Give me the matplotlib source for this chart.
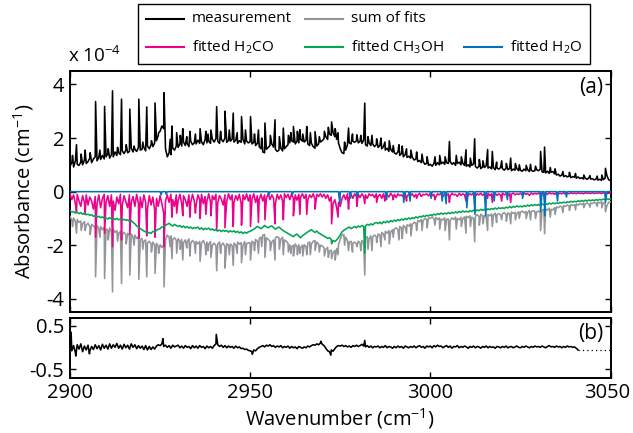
import numpy as np
import matplotlib
matplotlib.use("Agg")
import matplotlib.pyplot as plt
from matplotlib.lines import Line2D
from matplotlib.patches import Rectangle
from matplotlib.transforms import ScaledTranslation

plt.rcParams['font.family'] = ['Open Sans', 'DejaVu Sans']
plt.rcParams['mathtext.fontset'] = 'custom'
plt.rcParams['mathtext.rm'] = 'Open Sans'
plt.rcParams['mathtext.it'] = 'Open Sans:italic'
plt.rcParams['mathtext.bf'] = 'Open Sans:bold'
plt.rcParams['axes.unicode_minus'] = False

# ---------------------------------------------------------------- data
# spectra sampled every 0.5 cm-1 from 2900 to 3050 (absorbance in 1e-4 cm-1)
wn = np.arange(2900, 3050.25, 0.5)

meas_base = [
    0.95, 1.08, 0.92, 1.15, 1.02, 0.98, 1.10, 1.00, 1.18, 1.05,
    1.12, 1.25, 1.08, 1.22, 1.30, 1.15, 1.28, 1.20, 1.35, 1.22,
    1.30, 1.42, 1.25, 1.38, 1.30, 1.48, 1.35, 1.45, 1.38, 1.52,
    1.42, 1.55, 1.45, 1.50, 1.62, 1.48, 1.58, 1.50, 1.65, 1.55,
    1.58, 1.65, 1.52, 1.70, 1.60, 1.75, 1.68, 1.82, 1.90, 2.10,
    2.25, 2.45, 2.35, 1.60, 1.30, 1.45, 1.38, 1.62, 1.55, 1.70,
    1.65, 1.78, 1.70, 1.85, 1.72, 1.80, 1.68, 1.88, 1.75, 1.82,
    1.78, 1.92, 1.80, 1.86, 1.75, 1.95, 1.82, 1.88, 1.80, 1.96,
    1.85, 1.98, 1.88, 1.80, 1.95, 1.86, 2.00, 1.84, 1.92, 1.88,
    1.96, 1.85, 1.92, 1.80, 1.90, 1.84, 1.95, 1.78, 1.88, 1.82,
    1.86, 1.78, 1.84, 1.72, 1.80, 1.68, 1.60, 1.48, 1.45, 1.58,
    1.65, 1.72, 1.78, 1.66, 1.58, 1.50, 1.55, 1.62, 1.52, 1.60,
    1.68, 1.75, 1.82, 1.90, 1.85, 1.78, 1.88, 1.82, 1.95, 1.88,
    1.85, 1.92, 1.78, 1.72, 1.80, 1.68, 1.62, 1.70, 1.78, 1.85,
    1.90, 1.98, 2.05, 1.95, 2.15, 2.10, 2.20, 2.05, 1.95, 1.82,
    1.60, 1.45, 1.42, 1.55, 1.75, 1.82, 1.78, 1.88, 1.84, 1.90,
    1.82, 1.88, 1.80, 1.92, 1.75, 1.70, 1.82, 1.72, 1.78, 1.68,
    1.75, 1.65, 1.72, 1.60, 1.68, 1.55, 1.62, 1.50, 1.58, 1.48,
    1.45, 1.40, 1.48, 1.35, 1.42, 1.30, 1.38, 1.28, 1.32, 1.25,
    1.28, 1.18, 1.22, 1.12, 1.16, 1.08, 1.12, 1.02, 1.06, 0.98,
    1.02, 0.95, 1.05, 0.98, 1.08, 1.00, 1.04, 1.10, 1.02, 1.08,
    1.05, 1.12, 1.02, 1.08, 0.98, 1.05, 1.10, 1.00, 1.06, 0.98,
    0.95, 1.00, 0.92, 0.98, 1.04, 0.94, 0.88, 0.95, 0.86, 0.92,
    0.90, 0.96, 0.88, 0.92, 0.85, 0.90, 0.82, 0.88, 0.84, 0.90,
    0.86, 0.80, 0.88, 0.82, 0.86, 0.78, 0.84, 0.80, 0.86, 0.78,
    0.80, 0.76, 0.84, 0.78, 0.82, 0.75, 0.80, 0.76, 0.78, 0.82,
    0.78, 0.84, 0.74, 0.72, 0.70, 0.76, 0.68, 0.72, 0.75, 0.66,
    0.62, 0.65, 0.58, 0.62, 0.56, 0.60, 0.55, 0.58, 0.52, 0.56,
    0.54, 0.50, 0.55, 0.49, 0.52, 0.47, 0.50, 0.46, 0.51, 0.47,
    0.48, 0.44, 0.47, 0.43, 0.46, 0.42, 0.45, 0.50, 0.60, 0.44,
    0.42]

sum_base = [
    -0.93, -1.05, -0.98, -1.12, -1.04, -1.15, -1.10, -1.20, -1.12, -1.25,
    -1.18, -1.30, -1.22, -1.28, -1.35, -1.25, -1.38, -1.30, -1.42, -1.32,
    -1.38, -1.45, -1.35, -1.50, -1.40, -1.52, -1.45, -1.55, -1.48, -1.60,
    -1.52, -1.62, -1.55, -1.65, -1.58, -1.70, -1.62, -1.75, -1.68, -1.80,
    -1.75, -1.85, -1.80, -1.92, -1.85, -1.95, -1.88, -2.00, -1.92, -2.05,
    -1.98, -2.08, -2.00, -1.80, -1.62, -1.70, -1.65, -1.78, -1.72, -1.82,
    -1.75, -1.85, -1.78, -1.90, -1.80, -1.88, -1.76, -1.92, -1.82, -1.90,
    -1.85, -1.95, -1.86, -1.92, -1.82, -1.98, -1.88, -1.95, -1.86, -2.00,
    -1.92, -2.02, -1.95, -1.88, -2.00, -1.92, -2.05, -1.94, -2.00, -1.95,
    -2.02, -1.92, -1.98, -1.88, -1.96, -1.90, -2.00, -1.86, -1.95, -1.90,
    -1.92, -1.85, -1.90, -1.78, -1.85, -1.75, -1.70, -1.62, -1.60, -1.72,
    -1.78, -1.85, -1.88, -1.80, -1.72, -1.68, -1.72, -1.78, -1.70, -1.80,
    -1.85, -1.92, -1.98, -2.05, -2.00, -1.95, -2.05, -1.98, -2.08, -2.00,
    -1.98, -2.05, -1.92, -1.88, -1.95, -1.85, -1.82, -1.88, -1.95, -2.00,
    -2.02, -2.10, -2.15, -2.08, -2.22, -2.18, -2.28, -2.20, -2.12, -1.98,
    -1.78, -1.62, -1.60, -1.70, -1.82, -1.88, -1.85, -1.92, -1.88, -1.95,
    -1.85, -1.92, -1.82, -1.90, -1.72, -1.68, -1.75, -1.65, -1.70, -1.62,
    -1.68, -1.58, -1.62, -1.52, -1.58, -1.48, -1.55, -1.45, -1.50, -1.42,
    -1.40, -1.35, -1.42, -1.30, -1.36, -1.26, -1.32, -1.24, -1.28, -1.20,
    -1.22, -1.14, -1.18, -1.08, -1.12, -1.04, -1.08, -1.00, -1.04, -0.98,
    -1.00, -0.94, -1.02, -0.96, -1.04, -0.98, -1.02, -1.06, -0.98, -1.04,
    -1.02, -1.08, -0.98, -1.04, -0.95, -1.00, -1.05, -0.96, -1.02, -0.94,
    -0.92, -0.97, -0.90, -0.95, -1.00, -0.92, -0.86, -0.92, -0.84, -0.90,
    -0.88, -0.93, -0.85, -0.90, -0.83, -0.88, -0.80, -0.86, -0.82, -0.87,
    -0.83, -0.78, -0.85, -0.79, -0.83, -0.76, -0.81, -0.77, -0.82, -0.75,
    -0.77, -0.72, -0.79, -0.74, -0.77, -0.70, -0.75, -0.71, -0.73, -0.76,
    -0.72, -0.78, -0.68, -0.66, -0.64, -0.69, -0.62, -0.66, -0.68, -0.60,
    -0.57, -0.60, -0.54, -0.57, -0.52, -0.55, -0.50, -0.53, -0.48, -0.51,
    -0.49, -0.46, -0.50, -0.45, -0.48, -0.43, -0.46, -0.42, -0.46, -0.43,
    -0.44, -0.40, -0.43, -0.39, -0.42, -0.38, -0.41, -0.45, -0.52, -0.40,
    -0.38]

h2co_base = [
    -0.08, -0.30, -0.12, -0.45, -0.10, -0.35, -0.55, -0.15, -0.40, -0.12,
    -0.50, -0.20, -0.35, -0.65, -0.18, -0.45, -0.12, -0.60, -0.25, -0.10,
    -0.40, -0.15, -0.55, -0.12, -0.35, -0.70, -0.20, -0.45, -0.10, -0.50,
    -0.15, -0.38, -0.60, -0.12, -0.40, -0.18, -0.55, -0.10, -0.45, -0.20,
    -0.60, -0.12, -0.40, -0.65, -0.15, -0.50, -0.20, -0.70, -0.25, -0.55,
    -0.15, -0.45, -0.80, -0.35, -0.12, -0.40, -0.10, -0.30, -0.55, -0.12,
    -0.35, -0.10, -0.45, -0.15, -0.30, -0.55, -0.12, -0.40, -0.10, -0.35,
    -0.50, -0.12, -0.30, -0.10, -0.45, -0.18, -0.35, -0.08, -0.40, -0.15,
    -0.30, -0.10, -0.42, -0.15, -0.28, -0.50, -0.12, -0.35, -0.08, -0.30,
    -0.12, -0.40, -0.15, -0.32, -0.10, -0.45, -0.12, -0.30, -0.08, -0.35,
    -0.12, -0.28, -0.08, -0.40, -0.15, -0.30, -0.10, -0.35, -0.12, -0.25,
    -0.08, -0.30, -0.12, -0.25, -0.45, -0.10, -0.28, -0.12, -0.35, -0.08,
    -0.22, -0.10, -0.30, -0.08, -0.25, -0.12, -0.32, -0.10, -0.20, -0.08,
    -0.25, -0.10, -0.30, -0.12, -0.22, -0.08, -0.28, -0.10, -0.18, -0.08,
    -0.20, -0.10, -0.25, -0.12, -0.35, -0.20, -0.45, -0.30, -0.60, -0.40,
    -0.55, -0.25, -0.12, -0.30, -0.08, -0.22, -0.10, -0.25, -0.08, -0.18,
    -0.10, -0.22, -0.08, -0.18, -0.12, -0.25, -0.08, -0.15, -0.10, -0.22,
    -0.08, -0.18, -0.10, -0.25, -0.08, -0.15, -0.12, -0.20, -0.06, -0.16,
    -0.10, -0.22, -0.08, -0.15, -0.12, -0.20, -0.06, -0.18, -0.10, -0.15,
    -0.08, -0.20, -0.10, -0.14, -0.06, -0.18, -0.10, -0.12, -0.08, -0.16,
    -0.06, -0.15, -0.10, -0.20, -0.08, -0.12, -0.06, -0.18, -0.10, -0.14,
    -0.08, -0.16, -0.06, -0.12, -0.10, -0.18, -0.06, -0.14, -0.08, -0.12,
    -0.06, -0.15, -0.08, -0.12, -0.05, -0.16, -0.08, -0.12, -0.06, -0.14,
    -0.08, -0.12, -0.05, -0.15, -0.08, -0.10, -0.06, -0.14, -0.08, -0.12,
    -0.05, -0.12, -0.08, -0.15, -0.06, -0.10, -0.05, -0.12, -0.08, -0.10,
    -0.06, -0.12, -0.05, -0.10, -0.07, -0.14, -0.05, -0.10, -0.06, -0.09,
    -0.05, -0.11, -0.06, -0.09, -0.05, -0.10, -0.04, -0.08, -0.06, -0.10,
    -0.04, -0.09, -0.06, -0.08, -0.04, -0.10, -0.05, -0.08, -0.04, -0.07,
    -0.05, -0.08, -0.04, -0.07, -0.05, -0.08, -0.04, -0.06, -0.05, -0.07,
    -0.04, -0.07, -0.05, -0.06, -0.04, -0.07, -0.04, -0.06, -0.05, -0.06,
    -0.05]

ch3oh_base = [
    -0.72, -0.76, -0.74, -0.80, -0.77, -0.82, -0.78, -0.84, -0.80, -0.86,
    -0.84, -0.88, -0.86, -0.92, -0.90, -0.95, -0.92, -0.97, -0.94, -0.99,
    -0.98, -1.02, -0.97, -1.01, -0.99, -1.04, -1.00, -1.05, -1.02, -1.06,
    -1.03, -1.07, -1.05, -1.10, -1.08, -1.15, -1.20, -1.28, -1.32, -1.38,
    -1.42, -1.47, -1.50, -1.55, -1.52, -1.56, -1.48, -1.50, -1.44, -1.40,
    -1.38, -1.32, -1.30, -1.25, -1.22, -1.18, -1.24, -1.28, -1.22, -1.26,
    -1.30, -1.26, -1.33, -1.28, -1.35, -1.30, -1.36, -1.32, -1.38, -1.34,
    -1.36, -1.32, -1.40, -1.35, -1.42, -1.37, -1.40, -1.36, -1.43, -1.39,
    -1.45, -1.41, -1.47, -1.43, -1.49, -1.44, -1.48, -1.45, -1.51, -1.46,
    -1.50, -1.46, -1.52, -1.48, -1.54, -1.50, -1.56, -1.51, -1.55, -1.50,
    -1.48, -1.44, -1.40, -1.35, -1.30, -1.34, -1.38, -1.33, -1.26, -1.31,
    -1.35, -1.30, -1.28, -1.34, -1.40, -1.36, -1.32, -1.38, -1.44, -1.48,
    -1.52, -1.56, -1.60, -1.64, -1.68, -1.62, -1.58, -1.66, -1.72, -1.65,
    -1.60, -1.55, -1.50, -1.46, -1.42, -1.48, -1.52, -1.47, -1.54, -1.58,
    -1.62, -1.66, -1.70, -1.74, -1.72, -1.78, -1.82, -1.86, -1.80, -1.72,
    -1.62, -1.50, -1.44, -1.40, -1.36, -1.32, -1.38, -1.34, -1.30, -1.35,
    -1.28, -1.32, -1.26, -1.30, -1.28, -1.22, -1.25, -1.20, -1.24, -1.18,
    -1.15, -1.19, -1.14, -1.20, -1.12, -1.16, -1.10, -1.15, -1.08, -1.12,
    -1.06, -1.10, -1.04, -1.08, -1.02, -1.06, -1.00, -1.04, -0.98, -1.02,
    -0.97, -1.00, -0.94, -0.98, -0.92, -0.95, -0.90, -0.93, -0.88, -0.91,
    -0.86, -0.89, -0.84, -0.87, -0.82, -0.85, -0.80, -0.84, -0.80, -0.83,
    -0.78, -0.82, -0.77, -0.80, -0.75, -0.79, -0.74, -0.77, -0.72, -0.76,
    -0.73, -0.76, -0.71, -0.74, -0.69, -0.73, -0.68, -0.71, -0.66, -0.70,
    -0.66, -0.69, -0.64, -0.67, -0.63, -0.66, -0.61, -0.65, -0.60, -0.63,
    -0.60, -0.63, -0.58, -0.61, -0.56, -0.60, -0.55, -0.58, -0.53, -0.57,
    -0.54, -0.57, -0.52, -0.55, -0.50, -0.54, -0.49, -0.52, -0.48, -0.51,
    -0.48, -0.51, -0.46, -0.49, -0.45, -0.48, -0.43, -0.46, -0.42, -0.45,
    -0.42, -0.44, -0.40, -0.43, -0.39, -0.42, -0.38, -0.40, -0.36, -0.39,
    -0.36, -0.38, -0.34, -0.37, -0.33, -0.36, -0.32, -0.35, -0.31, -0.34,
    -0.31, -0.33, -0.30, -0.32, -0.29, -0.31, -0.28, -0.30, -0.27, -0.29,
    -0.27]

h2o_base = [0.0] * len(wn)

residual = [
    0.10, -0.08, 0.04, -0.12, 0.06, -0.04, 0.08, -0.10, 0.03, -0.06,
    0.05, -0.08, 0.02, -0.05, 0.06, -0.03, 0.04, -0.06, 0.07, -0.02,
    0.05, -0.04, 0.08, -0.02, 0.06, 0.00, 0.09, -0.02, 0.05, -0.04,
    0.07, -0.01, 0.05, -0.04, 0.08, 0.00, 0.06, -0.03, 0.04, -0.02,
    0.03, -0.05, 0.04, -0.06, 0.02, -0.05, 0.01, -0.04, 0.03, 0.06,
    0.04, 0.08, 0.02, 0.05, 0.00, 0.04, -0.02, 0.05, 0.01, 0.03,
    0.05, -0.01, 0.03, -0.02, 0.04, 0.00, 0.02, -0.03, 0.04, -0.01,
    0.03, -0.02, 0.04, 0.00, 0.02, -0.03, 0.03, -0.01, 0.02, -0.02,
    0.04, 0.08, 0.06, 0.02, 0.05, 0.00, 0.04, -0.01, 0.03, 0.00,
    0.02, -0.02, 0.03, -0.01, 0.01, -0.03, -0.02, -0.05, -0.04, -0.07,
    -0.08, -0.10, -0.06, -0.08, -0.03, 0.00, 0.02, 0.04, 0.01, 0.05,
    0.03, 0.06, 0.02, 0.04, 0.00, 0.03, 0.01, 0.04, -0.01, 0.02,
    0.00, 0.03, -0.02, 0.02, -0.01, 0.01, -0.03, 0.02, 0.00, -0.02,
    0.01, -0.01, 0.03, 0.01, 0.04, 0.06, 0.05, 0.08, 0.06, 0.10,
    0.07, 0.04, -0.02, -0.08, -0.10, -0.06, -0.09, -0.03, 0.02, 0.04,
    0.03, 0.05, 0.02, 0.04, 0.01, 0.03, 0.00, 0.04, 0.02, 0.05,
    0.02, 0.04, 0.07, 0.03, 0.01, 0.04, 0.00, 0.03, -0.01, 0.02,
    0.01, 0.03, -0.01, 0.02, 0.00, 0.04, -0.01, 0.02, 0.01, -0.02,
    0.02, -0.01, 0.03, 0.00, 0.02, -0.02, 0.03, 0.01, -0.01, 0.02,
    0.00, 0.03, -0.01, 0.02, 0.04, 0.00, 0.02, -0.02, 0.03, 0.01,
    0.03, -0.01, 0.04, 0.01, 0.05, 0.02, 0.03, -0.01, 0.02, 0.04,
    0.00, 0.03, -0.02, 0.02, 0.01, 0.04, -0.01, 0.02, 0.00, 0.03,
    0.01, -0.02, 0.02, 0.00, 0.03, -0.01, 0.02, 0.01, -0.02, 0.02,
    0.00, 0.03, -0.01, 0.02, 0.00, 0.01, -0.02, 0.02, 0.01, -0.01,
    0.02, 0.00, 0.03, -0.01, 0.01, 0.02, -0.01, 0.01, 0.03, 0.00,
    -0.01, 0.02, 0.00, 0.03, 0.01, -0.01, 0.02, 0.00, 0.03, 0.01,
    0.02, 0.00, 0.03, 0.01, -0.01, 0.02, 0.04, 0.01, 0.02, 0.00,
    0.03, 0.01, 0.02, -0.01, 0.02, 0.00, 0.03, 0.01, 0.02, 0.00,
    0.01, -0.02, -0.06, -0.06, -0.06, -0.06, -0.06, -0.06, -0.06, -0.06,
    -0.06, -0.06, -0.06, -0.06, -0.06, -0.06, -0.06, -0.06, -0.06, -0.06,
    -0.06]

# strong rovibrational lines shared by the measurement, the fit sum and H2CO
line_pos = [
    2901.8, 2904.2, 2907.1, 2909.6, 2911.8, 2914.3, 2916.6, 2919.1, 2921.3, 2923.6,
    2926.1, 2928.3, 2929.6, 2931.3, 2933.3, 2934.8, 2936.1, 2937.7, 2939.1, 2940.7,
    2943.0, 2945.3, 2947.6, 2950.1, 2952.3, 2954.1, 2956.9, 2959.2, 2962.0, 2963.8,
    2965.7, 2968.0, 2972.6, 2974.4, 2977.3, 2979.6, 2981.8, 2985.1, 2987.4, 2989.7,
    2993.4, 2996.2, 3001.3, 3005.3, 3009.9, 3012.3, 3015.9, 3017.2, 3019.8, 3022.3,
    3030.6, 3031.7, 3048.6]
meas_peak = [
    1.75, 1.55, 3.36, 3.18, 3.76, 3.45, 3.08, 3.45, 3.16, 3.31,
    3.69, 2.45, 2.20, 2.35, 2.25, 2.15, 2.35, 2.25, 2.30, 3.17,
    3.00, 2.93, 2.80, 2.80, 2.30, 2.56, 2.68, 2.37, 2.43, 2.31,
    2.43, 2.24, 2.60, 2.20, 2.37, 2.12, 3.30, 1.97, 1.85, 1.72,
    1.60, 1.48, 1.30, 1.87, 1.56, 1.97, 1.57, 1.50, 1.15, 1.25,
    1.50, 1.66, 0.87]
sum_dip = [
    -1.55, -1.45, -3.18, -3.24, -3.74, -3.43, -3.11, -3.27, -3.18, -3.05,
    -3.55, -2.50, -2.30, -2.55, -2.40, -2.30, -2.60, -2.35, -2.45, -2.95,
    -2.85, -2.75, -2.65, -2.55, -2.30, -2.45, -2.55, -2.35, -2.40, -2.30,
    -2.35, -2.20, -2.50, -2.35, -2.20, -2.05, -3.11, -1.90, -1.80, -1.70,
    -1.55, -1.45, -1.25, -1.80, -1.55, -1.87, -1.45, -1.30, -1.05, -1.20,
    -1.45, -1.57, -0.75]
h2co_dip = [
    -0.75, -0.85, -1.70, -1.55, -2.05, -1.80, -1.60, -1.75, -1.65, -1.70,
    -2.05, -0.95, -0.80, -0.90, -0.95, -0.80, -1.00, -0.85, -0.90, -1.45,
    -1.35, -1.30, -1.25, -1.30, -1.15, -1.05, -1.20, -1.05, -0.90, -0.85,
    -0.85, -0.65, -1.20, -0.95, -0.65, -0.55, -0.45, -0.40, -0.35, -0.30,
    -0.35, -0.25, -0.30, -0.40, -0.35, -0.30, -0.25, -0.40, -0.35, -0.40,
    -0.25, -0.28, -0.20]

# weaker lines seen in the measurement and mirrored in the fit sum
weak_pos = [
    2900.7, 2903.1, 2905.6, 2908.3, 2910.6, 2913.2, 2915.6, 2917.8, 2920.2, 2922.6,
    2924.6, 2927.8, 2930.6, 2932.4, 2938.3, 2941.8, 2944.2, 2946.4, 2948.7, 2951.2,
    2953.2, 2955.6, 2958.1, 2960.6, 2961.3, 2963.1, 2964.6, 2966.7, 2969.2, 2970.6,
    2971.7, 2973.6, 2976.2, 2978.4, 2980.7, 2982.7, 2983.8, 2986.3, 2988.6, 2991.3,
    2992.2, 2994.6, 2997.7, 2999.1, 3002.6, 3004.1, 3007.2, 3008.6, 3011.1, 3013.6,
    3014.6, 3018.4, 3021.1, 3023.6, 3024.7, 3026.6, 3027.8, 3029.2, 3033.3, 3034.6,
    3036.8, 3038.6, 3040.3, 3042.6, 3044.3, 3046.3, 3047.6]
meas_weak = [
    1.35, 1.40, 1.45, 1.55, 1.60, 1.65, 1.75, 1.70, 1.85, 1.90,
    2.20, 1.95, 2.10, 2.05, 2.15, 2.25, 2.30, 2.20, 2.30, 2.15,
    2.00, 2.10, 2.05, 2.10, 2.20, 2.25, 2.15, 2.20, 2.05, 2.25,
    2.40, 2.35, 1.85, 2.15, 2.10, 2.05, 2.10, 2.00, 1.90, 1.75,
    1.70, 1.55, 1.40, 1.30, 1.35, 1.30, 1.35, 1.30, 1.25, 1.20,
    1.15, 1.10, 1.05, 1.05, 1.00, 0.98, 1.02, 0.95, 0.90, 0.85,
    0.75, 0.72, 0.68, 0.62, 0.60, 0.58, 0.62]
sum_weak = [
    -1.30, -1.45, -1.60, -1.70, -1.80, -1.85, -1.95, -2.00, -2.15, -2.25,
    -2.30, -2.05, -2.15, -2.10, -2.20, -2.30, -2.35, -2.30, -2.35, -2.20,
    -2.05, -2.20, -2.15, -2.25, -2.30, -2.35, -2.40, -2.35, -2.25, -2.40,
    -2.45, -2.55, -2.00, -2.25, -2.20, -2.15, -2.20, -2.05, -1.95, -1.80,
    -1.75, -1.65, -1.45, -1.35, -1.40, -1.45, -1.40, -1.30, -1.30, -1.25,
    -1.20, -1.15, -1.10, -1.05, -1.00, -1.00, -1.05, -1.00, -0.95, -0.85,
    -0.78, -0.70, -0.68, -0.60, -0.58, -0.55, -0.60]

ch3oh_line_pos = [2972.6, 2981.8]
ch3oh_dip = [-1.95, -2.30]

h2o_line_pos = [2925.3, 2926.7, 2955.2, 2961.7, 2974.9, 2977.8, 2979.7, 2987.9,
                2992.6, 2994.4, 3000.2, 3003.3, 3004.4, 3010.1, 3012.4, 3015.4,
                3017.7, 3021.4, 3025.6, 3030.6, 3031.8, 3035.3, 3037.8, 3048.6]
h2o_dip = [-0.12, -0.10, -0.12, -0.10, -0.45, -0.25, -0.20, -0.30,
           -0.40, -0.35, -0.25, -0.35, -0.45, -0.60, -0.85, -0.90,
           -0.35, -0.30, -0.25, -0.75, -0.90, -0.35, -0.20, -0.40]

res_spike_pos = [2900.3, 2901.6, 2905.4, 2925.8, 2940.6, 2950.6, 2969.6, 2972.4, 2981.8]
res_spike = [0.35, -0.20, -0.15, 0.20, 0.30, -0.16, 0.14, -0.18, 0.16]
res_fit_end = 3041          # residual beyond this point is shown dotted

series_colors = {
    'measurement': '#000000',
    'sum': '#939598',
    'h2co': '#EC008C',
    'ch3oh': '#00A651',
    'h2o': '#0072BC',
}


def trace(base, pos_lists, val_lists):
    """Merge the regular samples with the line samples, sorted by wavenumber."""
    x = np.concatenate([wn] + [np.asarray(p, float) for p in pos_lists])
    y = np.concatenate([np.asarray(base, float)] + [np.asarray(v, float) for v in val_lists])
    order = np.argsort(x, kind='stable')
    return x[order], y[order]


# ---------------------------------------------------------------- figure
W, H = 633, 433
fig = plt.figure(figsize=(W / 100, H / 100), dpi=100)


def fx(px):
    return px / W


def fy(py):
    return 1 - py / H


ax = fig.add_axes([fx(70), fy(312.3), fx(610.5) - fx(70), fy(71) - fy(312.3)])
axr = fig.add_axes([fx(70), fy(377.7), fx(610.5) - fx(70), fy(318.3) - fy(377.7)])

lw = 1.15
ax.plot(*trace(meas_base, [line_pos, weak_pos], [meas_peak, meas_weak]),
        color=series_colors['measurement'], lw=lw, zorder=2)
ax.plot(*trace(sum_base, [line_pos, weak_pos], [sum_dip, sum_weak]),
        color=series_colors['sum'], lw=lw, zorder=3)
ax.plot(*trace(h2co_base, [line_pos], [h2co_dip]), color=series_colors['h2co'], lw=lw, zorder=4)
ax.plot(*trace(ch3oh_base, [ch3oh_line_pos], [ch3oh_dip]), color=series_colors['ch3oh'], lw=lw, zorder=5)
ax.plot(*trace(h2o_base, [h2o_line_pos], [h2o_dip]), color=series_colors['h2o'], lw=lw, zorder=6)

rx, ry = trace(residual, [res_spike_pos], [res_spike])
axr.plot(rx[rx <= res_fit_end], ry[rx <= res_fit_end], color='black', lw=lw)
axr.plot(rx[rx >= res_fit_end], ry[rx >= res_fit_end], color='black', lw=0.9, ls=(0, (1, 2.5)))

for a in (ax, axr):
    a.set_xlim(2900, 3050)
    a.set_xticks([2900, 2950, 3000, 3050])
    a.tick_params(direction='in', length=4.5, width=1.0, top=True, right=True,
                  labelsize=14.5, pad=4, colors='black')
    for s in a.spines.values():
        s.set_linewidth(1.4)

ax.set_ylim(-4.5, 4.5)
ax.set_yticks([-4, -2, 0, 2, 4])
ax.set_yticklabels(['-4', '-2', '0', '2', '4'])
ax.tick_params(labelbottom=False)

axr.set_ylim(-0.7, 0.67)
axr.set_yticks([-0.5, 0.5])
axr.set_yticklabels(['-0.5', '0.5'])
axr.set_xticklabels(['2900', '2950', '3000', '3050'])
# keep the last tick label inside the canvas
last = axr.get_xticklabels()[-1]
last.set_transform(last.get_transform() + ScaledTranslation(-3 / 100, 0, fig.dpi_scale_trans))

ax.set_ylabel('Absorbance (cm$^{-1}$)', fontsize=14.5)
ax.yaxis.label.set_verticalalignment('center')
ax.yaxis.label.set_horizontalalignment('center')
ax.yaxis.set_label_coords((24 - 70) / 540.5, 0.5)

axr.set_xlabel('Wavenumber (cm$^{-1}$)', fontsize=14.5)
axr.xaxis.label.set_verticalalignment('center')
axr.xaxis.set_label_coords(0.5, (377.7 - 418.5) / 59.4)

ax.text(0.986, 0.930, '(a)', transform=ax.transAxes, ha='right', va='center', fontsize=15)
axr.text(0.986, 0.74, '(b)', transform=axr.transAxes, ha='right', va='center', fontsize=15)

fig.text(fx(68), fy(66), 'x 10$^{-4}$', ha='left', va='bottom', fontsize=13.5)

# legend box drawn in figure pixels
fig.patches.append(Rectangle((fx(138), fy(64)), fx(590) - fx(138), fy(3.5) - fy(64),
                             transform=fig.transFigure, fill=False, lw=1.0, ec='black'))
legend_rows = [19, 47]
legend_items = [
    (146, 0, 'measurement', 'measurement'),
    (305, 0, 'sum', 'sum of fits'),
    (146, 1, 'h2co', 'fitted H$_2$CO'),
    (305, 1, 'ch3oh', 'fitted CH$_3$OH'),
    (464, 1, 'h2o', 'fitted H$_2$O'),
]
for x0, row, key, label in legend_items:
    yy = fy(legend_rows[row])
    fig.add_artist(Line2D([fx(x0), fx(x0 + 38)], [yy, yy], transform=fig.transFigure,
                          color=series_colors[key], lw=1.5))
    fig.text(fx(x0 + 46), yy, label, ha='left', va='center', fontsize=11)

fig.savefig('out.png', dpi=100)
